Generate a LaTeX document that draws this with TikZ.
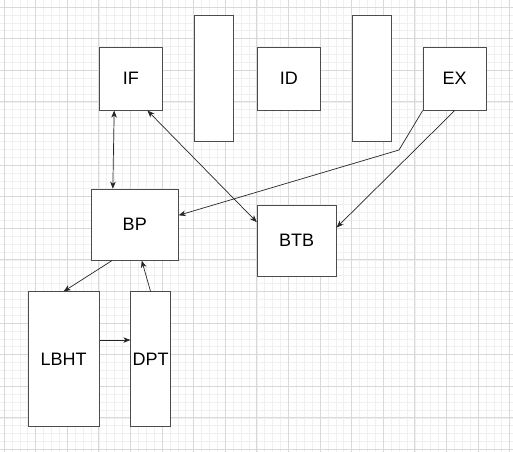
\documentclass[tikz,border=0pt]{standalone}
\usepackage{fontspec}
\setmainfont{Liberation Sans}
\usetikzlibrary{arrows.meta,calc}
\definecolor{minorg}{HTML}{F0F0F0}
\definecolor{majorg}{HTML}{D8D8D8}
\tikzset{
  box/.style 2 args={draw=black!70, line width=0.8pt, fill=white, inner sep=0pt,
    minimum width=#1*7.9pt, minimum height=#2*7.9pt, anchor=north west,
    font=\fontsize{18}{21}\selectfont},
  conn/.style={draw=black!85, line width=0.7pt},
  tip/.tip={Stealth[length=7pt,width=5.5pt,inset=2pt]}
}
\begin{document}
\begin{tikzpicture}[x=7.9pt,y=-7.9pt,shift={(4pt,-7pt)}]
\useasboundingbox[fill=white] (-4/7.9,-7/7.9) rectangle ({(513-4)/7.9},{(451-7)/7.9});
% grid
\foreach \i in {-1,...,65} \draw[minorg,line width=0.5pt] (\i,-1) -- (\i,57);
\foreach \j in {-1,...,57} \draw[minorg,line width=0.5pt] (-1,\j) -- (65,\j);
\foreach \i in {0,4,...,64} \draw[majorg,line width=0.8pt] (\i,-1) -- (\i,57);
\foreach \j in {0,4,...,56} \draw[majorg,line width=0.8pt] (-1,\j) -- (65,\j);
% boxes
\node[box={8}{8}] (IF) at (12,5) {IF};
\node[box={5}{16}] (R1) at (24,1) {};
\node[box={8}{8}] (ID) at (32,5) {ID};
\node[box={5}{16}] (R2) at (44,1) {};
\node[box={8}{8}] (EX) at (53,5) {EX};
\node[box={11}{9}] (BP) at (11,23) {BP};
\node[box={10}{9}] (BTB) at (32,25) {BTB};
\node[box={9}{17}] (LBHT) at (3,36) {LBHT};
\node[box={5}{17}] (DPT) at (16,36) {DPT};
% connectors
\draw[conn,tip-tip] ($(IF.south west)!0.24!(IF.south east)$) -- ($(BP.north west)!0.25!(BP.north east)$);
\draw[conn,tip-tip] ($(IF.south west)!0.76!(IF.south east)$) -- ($(BTB.north west)!0.245!(BTB.south west)$);
\coordinate (wp) at (50,18.1);
\draw[conn,-tip] (EX.south west) -- (wp) -- ($(BP.north east)!0.37!(BP.south east)$);
\draw[conn,-tip] (EX.south) -- ($(BTB.north east)!0.32!(BTB.south east)$);
\draw[conn,-tip] ($(BP.south west)!0.24!(BP.south east)$) -- (LBHT.north);
\draw[conn,-tip] (DPT.north) -- ($(BP.south west)!0.58!(BP.south east)$);
\draw[conn,-tip] ($(LBHT.north east)!0.36!(LBHT.south east)$) -- ($(DPT.north west)!0.36!(DPT.south west)$);
\end{tikzpicture}
\end{document}
